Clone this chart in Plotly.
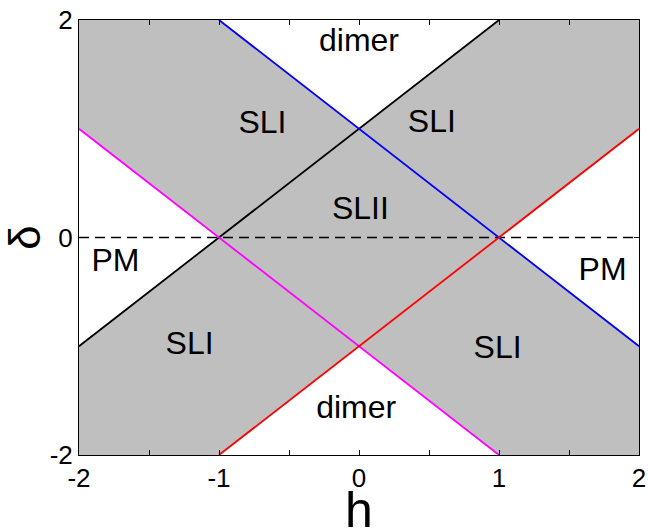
import plotly.graph_objects as go

# Phase boundaries in the (h, delta) plane
black_h = [-2, 1]
black_d = [-1, 2]
blue_h = [-1, 2]
blue_d = [2, -1]
magenta_h = [-2, 1]
magenta_d = [1, -2]
red_h = [-1, 2]
red_d = [-2, 1]
zero_h = [-2, 2]
zero_d = [0, 0]

# Non-gray (white) regions: dimer and PM triangles
dimer_top_h = [-1, 1, 0]
dimer_top_d = [2, 2, 1]
dimer_bot_h = [-1, 1, 0]
dimer_bot_d = [-2, -2, -1]
pm_left_h = [-2, -1, -2]
pm_left_d = [1, 0, -1]
pm_right_h = [2, 1, 2]
pm_right_d = [1, 0, -1]

# Region labels
label_text = ["dimer", "SLI", "SLI", "SLII", "PM", "PM", "SLI", "SLI", "dimer"]
label_h = [0.0, -0.69, 0.52, 0.01, -1.74, 1.74, -1.21, 0.99, -0.02]
label_d = [1.79, 1.03, 1.04, 0.24, -0.23, -0.32, -1.0, -1.03, -1.59]

x_ticks = [-2, -1, 0, 1, 2]
y_ticks = [-2, 0, 2]

FONT = "Liberation Sans, Arial, Helvetica, sans-serif"
GRAY = "rgb(191,191,191)"

fig = go.Figure()

for hh, dd in [(dimer_top_h, dimer_top_d), (dimer_bot_h, dimer_bot_d),
               (pm_left_h, pm_left_d), (pm_right_h, pm_right_d)]:
    fig.add_trace(go.Scatter(x=hh, y=dd, mode="lines", fill="toself",
                             fillcolor="white", line=dict(width=0),
                             hoverinfo="skip", showlegend=False))

fig.add_trace(go.Scatter(x=zero_h, y=zero_d, mode="lines",
                         line=dict(color="black", width=1.6, dash="10px,6px"),
                         showlegend=False))

for hh, dd, col in [(black_h, black_d, "black"), (blue_h, blue_d, "blue"),
                    (magenta_h, magenta_d, "magenta"), (red_h, red_d, "red")]:
    fig.add_trace(go.Scatter(x=hh, y=dd, mode="lines",
                             line=dict(color=col, width=1.8),
                             showlegend=False))

fig.add_trace(go.Scatter(x=label_h, y=label_d, mode="text", text=label_text,
                         textfont=dict(family=FONT, size=32, color="black"),
                         textposition="middle center", showlegend=False))

fig.update_layout(
    width=648, height=529,
    margin=dict(l=79, r=9, t=20, b=74),
    paper_bgcolor="white", plot_bgcolor=GRAY,
    font=dict(family=FONT, color="black"),
    annotations=[dict(text="h", xref="paper", yref="paper", x=0.5, y=-0.126,
                      xanchor="center", yanchor="middle", showarrow=False,
                      font=dict(size=50, family=FONT, color="black"))],
)

fig.update_xaxes(
    range=[-2, 2], tickvals=x_ticks, ticktext=[str(v) for v in x_ticks],
    ticks="inside", ticklen=5, tickcolor="black", tickwidth=1,
    minor=dict(dtick=0.5, ticks="inside", ticklen=5, tickcolor="black"),
    showline=True, linecolor="black", linewidth=1, mirror="ticks",
    showgrid=False, zeroline=False, automargin=False,
    tickfont=dict(size=26, family=FONT),
)
fig.update_yaxes(
    range=[-2, 2], tickvals=y_ticks, ticktext=[str(v) for v in y_ticks],
    ticks="inside", ticklen=5, tickcolor="black", tickwidth=1,
    showline=True, linecolor="black", linewidth=1, mirror="ticks",
    showgrid=False, zeroline=False, automargin=False,
    tickfont=dict(size=26, family=FONT),
    title=dict(text="δ", font=dict(size=44, family=FONT), standoff=4),
)

fig.write_html("out.html")
